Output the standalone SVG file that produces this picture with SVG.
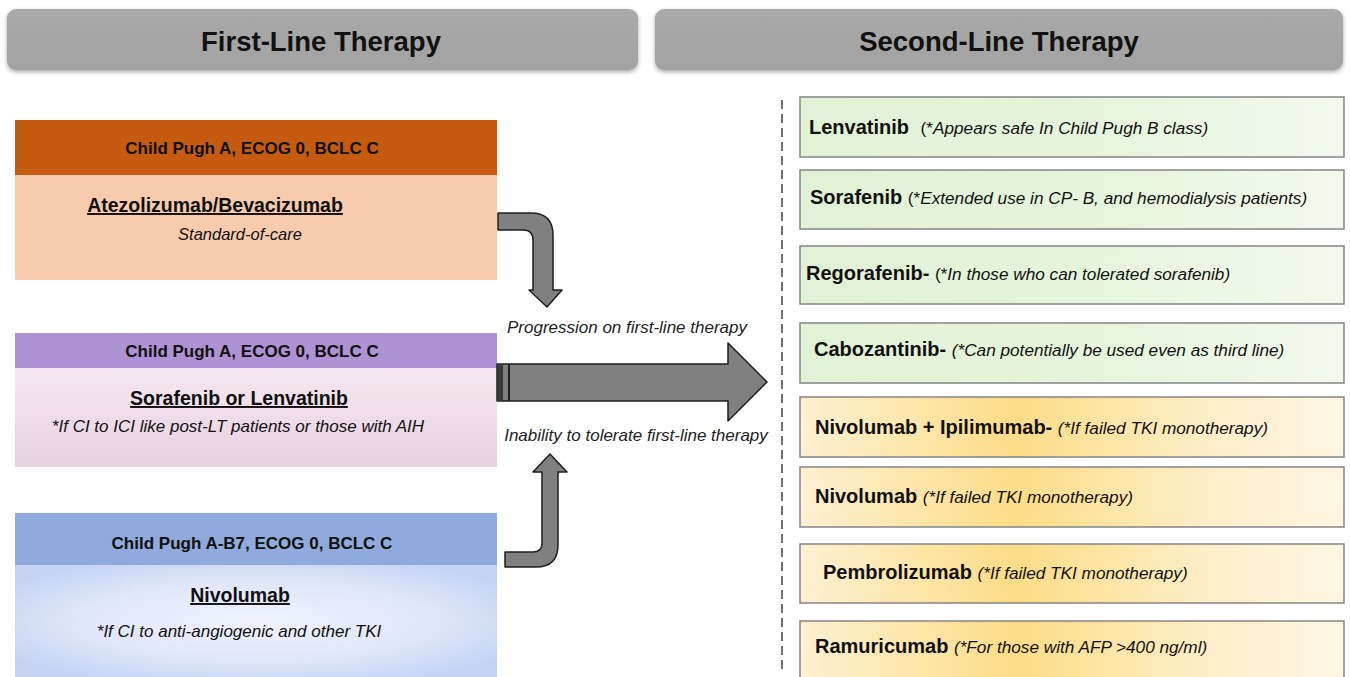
<svg xmlns="http://www.w3.org/2000/svg" width="1350" height="677" viewBox="0 0 1350 677">
<defs>
<style>
text{font-family:"Liberation Sans",Arial,sans-serif;fill:#111}
.title{font-size:27.5px;font-weight:bold;text-anchor:middle}
.hdr{font-size:17px;font-weight:bold;text-anchor:middle}
.drug{font-size:19.5px;font-weight:bold;text-anchor:middle;text-decoration:underline}
.note{font-size:17px;font-style:italic;text-anchor:middle}
.std{font-size:16.5px;font-style:italic;text-anchor:middle}
.lbl{font-size:17px;font-style:italic;text-anchor:middle;fill:#222}
.rname{font-size:20px;font-weight:bold}
.rit{font-size:17.2px;font-style:italic;font-weight:normal}
.rp{font-size:17.2px;font-weight:normal}
.gbox{fill:url(#green);stroke:#858585;stroke-width:1.5}
.ybox{fill:url(#yellow);stroke:#858585;stroke-width:1.5}
.arrow{fill:#808080;stroke:#1e1e1e;stroke-width:1.5;stroke-linejoin:round}
</style>
<linearGradient id="gray" x1="0" y1="0" x2="0" y2="1">
<stop offset="0" stop-color="#a9a9a9"/><stop offset="1" stop-color="#a2a2a2"/>
</linearGradient>
<linearGradient id="green" x1="0" y1="0" x2="1" y2="0">
<stop offset="0" stop-color="#e1f1d5"/><stop offset="0.6" stop-color="#e7f4de"/><stop offset="1" stop-color="#f3f9ee"/>
</linearGradient>
<linearGradient id="yellow" x1="0" y1="0" x2="1" y2="0">
<stop offset="0" stop-color="#fdf0d2"/><stop offset="0.4" stop-color="#fcdc86"/><stop offset="0.75" stop-color="#fdeec8"/><stop offset="1" stop-color="#fff6e4"/>
</linearGradient>
<linearGradient id="pink" x1="0" y1="0" x2="0" y2="1">
<stop offset="0" stop-color="#f4e7f0"/><stop offset="1" stop-color="#e8d2e0"/>
</linearGradient>
<radialGradient id="blue" cx="0.5" cy="0.5" r="0.6">
<stop offset="0" stop-color="#f0f3fc"/><stop offset="0.6" stop-color="#dfe6f9"/><stop offset="1" stop-color="#c6d4f4"/>
</radialGradient>
<filter id="shadow" x="-5%" y="-20%" width="110%" height="160%">
<feDropShadow dx="0" dy="2" stdDeviation="2" flood-color="#000" flood-opacity="0.35"/>
</filter>
</defs>
<rect width="1350" height="677" fill="#ffffff"/>

<g id="header-first">
<rect x="7" y="9" width="631" height="61" rx="9" fill="url(#gray)" filter="url(#shadow)"/>
<text class="title" x="321" y="51">First-Line Therapy</text>
</g>
<g id="header-second">
<rect x="655" y="9" width="688" height="61" rx="9" fill="url(#gray)" filter="url(#shadow)"/>
<text class="title" x="999" y="51">Second-Line Therapy</text>
</g>

<g id="first-atezo">
<rect x="15" y="120" width="482" height="55" fill="#c55a11"/>
<rect x="15" y="175" width="482" height="105" fill="#f8cbad"/>
<text class="hdr" x="252" y="154">Child Pugh A, ECOG 0, BCLC C</text>
<text class="drug" x="215" y="212">Atezolizumab/Bevacizumab</text>
<text class="std" x="240" y="240">Standard-of-care</text>
</g>

<g id="first-sorafenib">
<rect x="15" y="333" width="482" height="35" fill="#ad92d4"/>
<rect x="15" y="368" width="482" height="99" fill="url(#pink)"/>
<text class="hdr" x="252" y="357">Child Pugh A, ECOG 0, BCLC C</text>
<text class="drug" x="239" y="405">Sorafenib or Lenvatinib</text>
<text class="note" x="238" y="432">*If CI to ICI like post-LT patients or those with AIH</text>
</g>

<g id="first-nivolumab">
<rect x="15" y="513" width="482" height="52" fill="#8faadc"/>
<rect x="15" y="565" width="482" height="112" fill="url(#blue)"/>
<text class="hdr" x="252" y="549">Child Pugh A-B7, ECOG 0, BCLC C</text>
<text class="drug" x="240" y="602">Nivolumab</text>
<text class="note" x="239" y="637">*If CI to anti-angiogenic and other TKI</text>
</g>

<g id="connectors">
<path class="arrow" d="M498,213 H531 Q553,213 553,235 V290 H562 L547,307 L529,290 H533 V240 Q533,230 523,230 H498 Z"/>
<path class="arrow" d="M550,454 L567,472 H558 V545 Q558,567 536,567 H505 V552 H533 Q542,552 542,543 V472 H533 Z"/>
<path class="arrow" d="M497,364 H728 V343 L767,382 L728,421 V401 H497 Z"/>
<rect x="497" y="364" width="6" height="37" fill="#3a3a3a"/>
<line x1="509" y1="364" x2="509" y2="401" stroke="#222" stroke-width="2"/>
<text class="lbl" x="627" y="333">Progression on first-line therapy</text>
<text class="lbl" x="636" y="441">Inability to tolerate first-line therapy</text>
<line x1="782" y1="100" x2="782" y2="672" stroke="#707070" stroke-width="2" stroke-dasharray="9,5"/>
</g>

<g id="second-lenvatinib">
<rect class="gbox" x="800" y="97" width="544" height="60"/>
<text class="rname" x="809" y="134">Lenvatinib <tspan class="rp" dx="6">(*</tspan><tspan class="rit">Appears safe In Child Pugh B class)</tspan></text>
</g>
<g id="second-sorafenib">
<rect class="gbox" x="800" y="170" width="544" height="59"/>
<text class="rname" x="810" y="204">Sorafenib <tspan class="rp">(*</tspan><tspan class="rit">Extended use in CP- B, and hemodialysis patients)</tspan></text>
</g>
<g id="second-regorafenib">
<rect class="gbox" x="800" y="246" width="544" height="58"/>
<text class="rname" x="806" y="280">Regorafenib- <tspan class="rp">(*</tspan><tspan class="rit">In those who can tolerated sorafenib)</tspan></text>
</g>
<g id="second-cabozantinib">
<rect class="gbox" x="800" y="323" width="544" height="60"/>
<text class="rname" x="814" y="356">Cabozantinib- <tspan class="rit">(*Can potentially be used even as third line)</tspan></text>
</g>
<g id="second-nivo-ipi">
<rect class="ybox" x="800" y="397" width="544" height="60"/>
<text class="rname" x="815" y="434">Nivolumab + Ipilimumab- <tspan class="rit">(*If failed TKI monotherapy)</tspan></text>
</g>
<g id="second-nivolumab">
<rect class="ybox" x="800" y="467" width="544" height="60"/>
<text class="rname" x="815" y="503">Nivolumab <tspan class="rit">(*If failed TKI monotherapy)</tspan></text>
</g>
<g id="second-pembrolizumab">
<rect class="ybox" x="800" y="544" width="544" height="59"/>
<text class="rname" x="823" y="579">Pembrolizumab <tspan class="rit">(*If failed TKI monotherapy)</tspan></text>
</g>
<g id="second-ramucirumab">
<rect class="ybox" x="800" y="621" width="544" height="62"/>
<text class="rname" x="815" y="653">Ramuricumab <tspan class="rit">(*For those with AFP &gt;400 ng/ml)</tspan></text>
</g>
</svg>
